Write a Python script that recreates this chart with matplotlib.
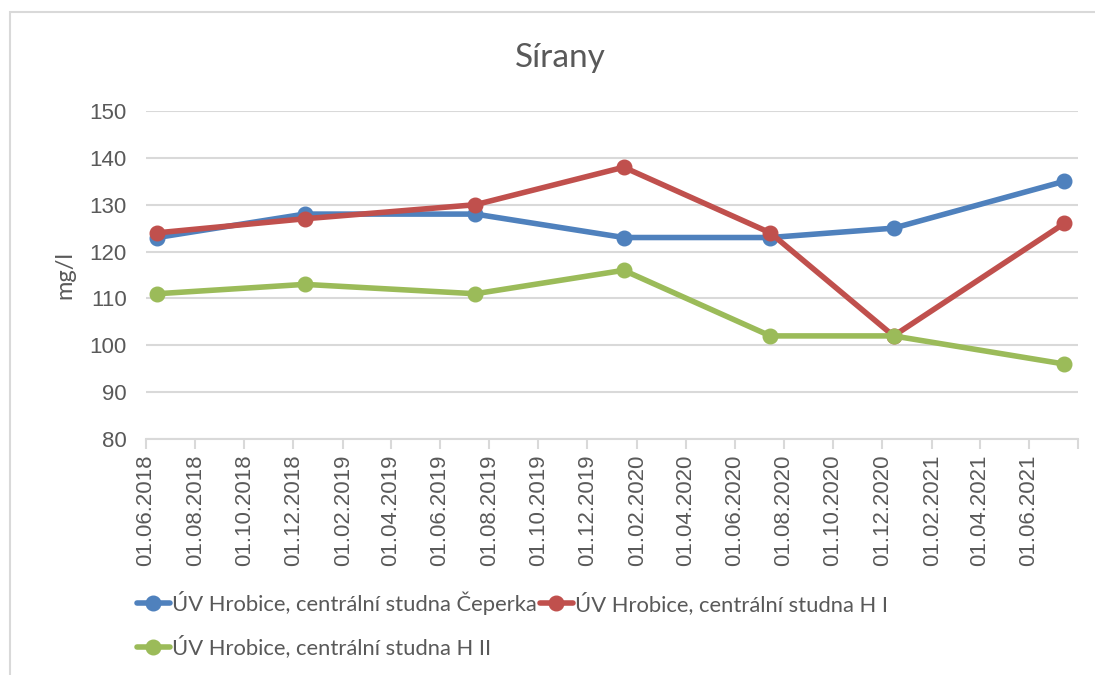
import numpy as np
import matplotlib.pyplot as plt
from matplotlib.patches import Rectangle

# sample dates and values (mg/l)
dates = np.array(['2018-06-15', '2018-12-15', '2019-07-15', '2020-01-15',
                  '2020-07-15', '2020-12-15', '2021-07-15'], dtype='datetime64[D]')
ceperka = [123, 128, 128, 123, 123, 125, 135]
h1 = [124, 127, 130, 138, 124, 102, 126]
h2 = [111, 113, 111, 116, 102, 102, 96]

names = ["ÚV Hrobice, centrální studna Čeperka",
         "ÚV Hrobice, centrální studna H I",
         "ÚV Hrobice, centrální studna H II"]
colors = ['#4F81BD', '#C0504D', '#9BBB59']

fig = plt.figure(figsize=(10.95, 6.75), dpi=100)
ax = fig.add_axes([146/1095, 1 - 439/675, (1078-146)/1095, (439-111)/675])

# chart frame like the Excel export
fig.patches.append(Rectangle((10/1095, -0.05), 1.1, 1 - 12/675 + 0.05,
                             transform=fig.transFigure, fill=False,
                             edgecolor='#D9D9D9', linewidth=1.5))

lines = []
for vals, col, name in zip([ceperka, h1, h2], colors, names):
    ln, = ax.plot(dates, vals, color=col, lw=4, marker='o', ms=10.5,
                  solid_capstyle='round', label=name, clip_on=False, zorder=3)
    lines.append(ln)

ax.set_ylim(80, 150)
ax.set_yticks(range(80, 151, 10))
ax.set_xlim(np.datetime64('2018-06-01'), np.datetime64('2021-08-01'))
xt = [np.datetime64(f'{y}-{m:02d}-01') for y in (2018, 2019, 2020, 2021) for m in range(2, 13, 2)]
xt = [d for d in xt if np.datetime64('2018-06-01') <= d <= np.datetime64('2021-06-01')]
ax.set_xticks(xt + [np.datetime64('2021-08-01')])
labels = [d.astype(object).strftime('%d.%m.%Y') for d in xt] + ['']
ax.set_xticklabels(labels, rotation=90)

ax.grid(axis='y', color='#D9D9D9', lw=1.5)
ax.set_axisbelow(True)
for s in ['top', 'right', 'left']:
    ax.spines[s].set_visible(False)
ax.spines['bottom'].set_color('#D9D9D9')
ax.spines['bottom'].set_linewidth(1.5)
ax.tick_params(axis='x', colors='#D9D9D9', length=7, width=1.5, labelcolor='#595959',
               labelsize=16, pad=4)
ax.tick_params(axis='y', length=0, labelcolor='#595959', labelsize=16, pad=14)
for t in ax.get_xticklabels() + ax.get_yticklabels():
    t.set_fontfamily('Liberation Sans')

ax.set_ylabel('mg/l', fontsize=17, color='#595959', family='Lato', labelpad=10)
fig.text(560/1095, 1 - 58/675, 'Sírany', ha='center', va='center',
         fontsize=24, color='#595959', family='Lato')

leg = fig.legend([lines[0], lines[2], lines[1]], [names[0], names[2], names[1]],
                 ncol=2, loc='upper left', bbox_to_anchor=(117/1095, 1 - 571/675),
                 frameon=False, handlelength=1.5, handletextpad=0.1,
                 columnspacing=0.15, labelspacing=0.95,
                 prop={'family': 'Lato', 'size': 15.8})
for t in leg.get_texts():
    t.set_color('#595959')

fig.savefig('out.png', dpi=100)
